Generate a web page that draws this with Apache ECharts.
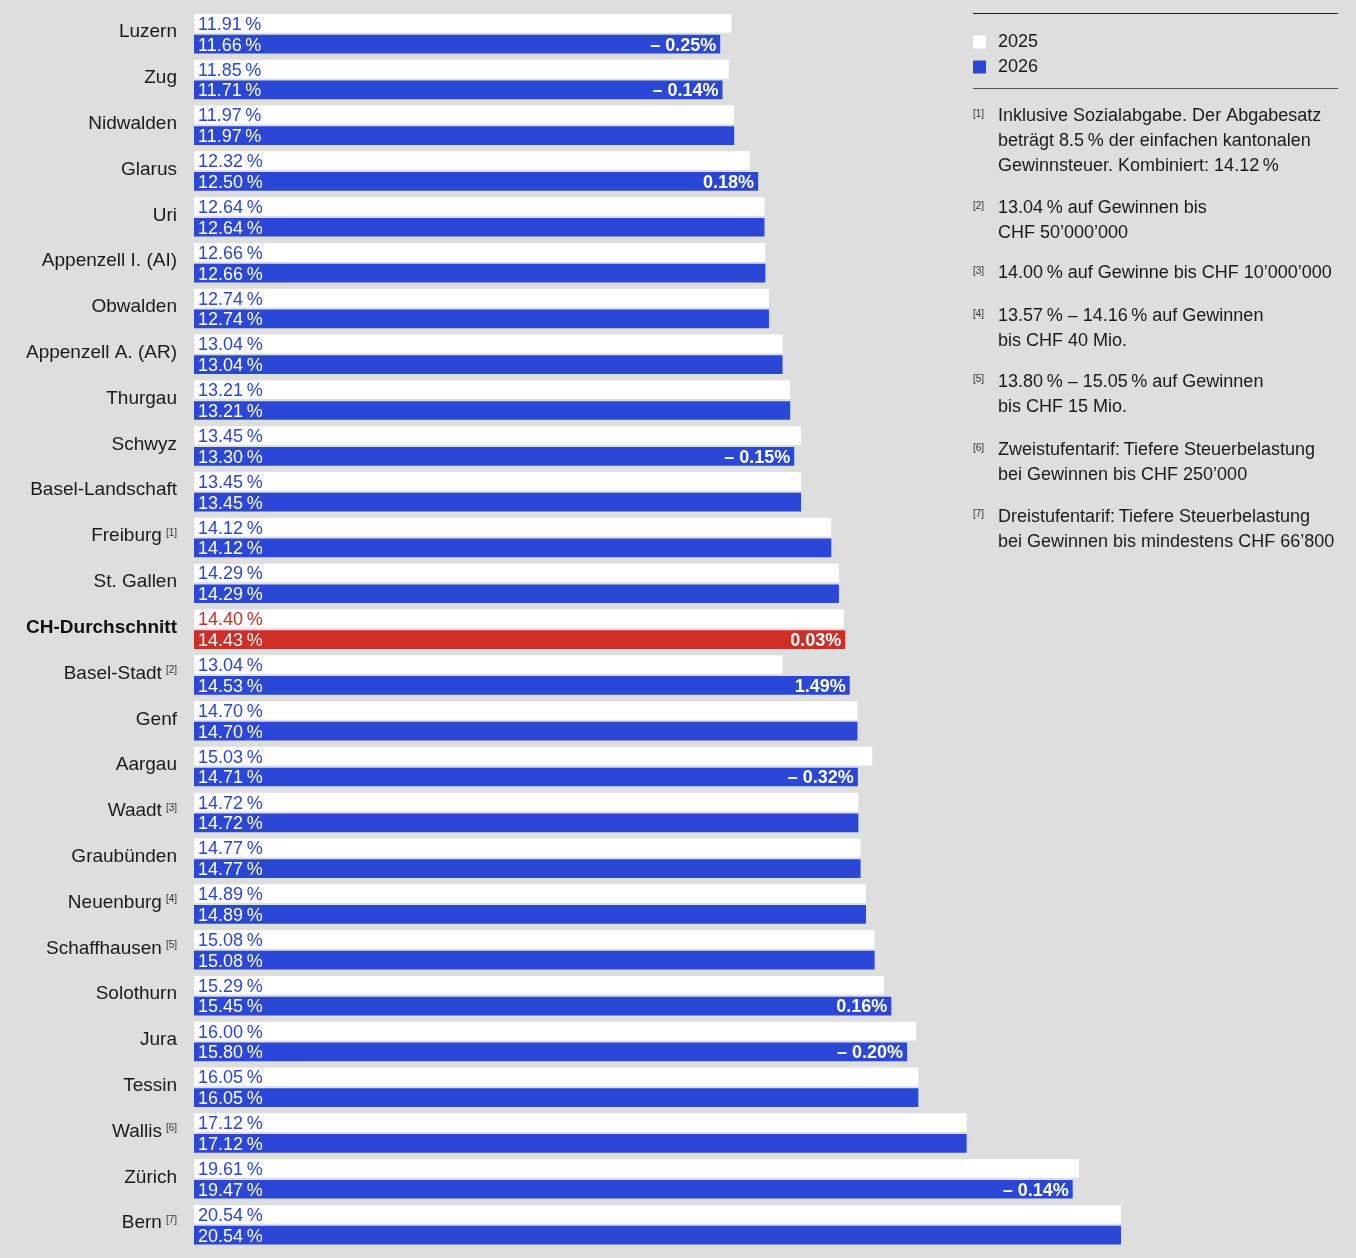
<!DOCTYPE html>
<html>
<head>
<meta charset="utf-8">
<script src="https://cdn.jsdelivr.net/npm/echarts@6/dist/echarts.min.js"></script>
<style>
html,body{margin:0;padding:0;background:#dedede;}
#c{width:1356px;height:1258px;}
</style>
</head>
<body>
<div id="c"></div>
<script>
const categories = ['Luzern','Zug','Nidwalden','Glarus','Uri','Appenzell I. (AI)','Obwalden','Appenzell A. (AR)','Thurgau','Schwyz','Basel-Landschaft','Freiburg','St. Gallen','CH-Durchschnitt','Basel-Stadt','Genf','Aargau','Waadt','Graubünden','Neuenburg','Schaffhausen','Solothurn','Jura','Tessin','Wallis','Zürich','Bern'];
const noteRefs = [null,null,null,null,null,null,null,null,null,null,null,1,null,null,2,null,null,3,null,4,5,null,null,null,6,null,7];
const values2025 = [11.91,11.85,11.97,12.32,12.64,12.66,12.74,13.04,13.21,13.45,13.45,14.12,14.29,14.40,13.04,14.70,15.03,14.72,14.77,14.89,15.08,15.29,16.00,16.05,17.12,19.61,20.54];
const values2026 = [11.66,11.71,11.97,12.50,12.64,12.66,12.74,13.04,13.21,13.30,13.45,14.12,14.29,14.43,14.53,14.70,14.71,14.72,14.77,14.89,15.08,15.45,15.80,16.05,17.12,19.47,20.54];
const changes = [-0.25,-0.14,null,0.18,null,null,null,null,null,-0.15,null,null,null,0.03,1.49,null,-0.32,null,null,null,null,0.16,-0.20,null,null,-0.14,null];
const averageName = 'CH-Durchschnitt';
const legendNames = ['2025','2026'];
const footnotes = [
  ['[1]', 'Inklusive Sozialabgabe. Der Abgabesatz\nbeträgt 8.5\u2009% der einfachen kantonalen\nGewinnsteuer. Kombiniert: 14.12\u2009%'],
  ['[2]', '13.04\u2009% auf Gewinnen bis\nCHF 50’000’000'],
  ['[3]', '14.00\u2009% auf Gewinne bis CHF 10’000’000'],
  ['[4]', '13.57\u2009% – 14.16\u2009% auf Gewinnen\nbis CHF 40 Mio.'],
  ['[5]', '13.80\u2009% – 15.05\u2009% auf Gewinnen\nbis CHF 15 Mio.'],
  ['[6]', 'Zweistufentarif:\u2009Tiefere Steuerbelastung\nbei Gewinnen bis CHF 250’000'],
  ['[7]', 'Dreistufentarif:\u2009Tiefere Steuerbelastung\nbei Gewinnen bis mindestens CHF 66’800']
];

const FONT = '"Liberation Sans", Arial, sans-serif';
const BLUE = '#2a47d6';
const RED = '#cf2e27';
const WHITE = '#ffffff';
const INK = '#1a1a1a';
const avgIdx = categories.indexOf(averageName);

const GRID = {left: 194, top: 10.75, width: 1128.25, bottom: 10.4};
const BAR_W = 18.7;
const BAR_GAP = '11%';

const fmtPct = v => v.toFixed(2) + '\u2009%';
const fmtChange = v => (v < 0 ? '– ' + Math.abs(v).toFixed(2) : v.toFixed(2)) + '%';

const data2025 = values2025.map((v, i) => i === avgIdx ? {value: v, label: {color: RED}} : v);
const data2026 = values2026.map((v, i) => i === avgIdx ? {value: v, itemStyle: {color: RED}} : v);

const footTops = [103.5, 195.8, 260.8, 303.5, 369.2, 437.5, 504.2];
const graphics = [
  {type: 'line', shape: {x1: 973, y1: 13.5, x2: 1338, y2: 13.5}, style: {stroke: '#1a1a1a', lineWidth: 1.2}},
  {type: 'line', shape: {x1: 973, y1: 88.5, x2: 1338, y2: 88.5}, style: {stroke: '#555555', lineWidth: 1.2}}
];
footnotes.forEach((f, i) => {
  graphics.push({type: 'text', x: 973, y: footTops[i] + 5.5, style: {text: f[0], font: '10px ' + FONT, fill: '#333333', verticalAlign: 'top'}});
  graphics.push({type: 'text', x: 998, y: footTops[i], style: {text: f[1], fontFamily: FONT, fontSize: 18, lineHeight: 25, fill: INK, verticalAlign: 'top'}});
});

const chart = echarts.init(document.getElementById('c'));
chart.setOption({
  animation: false,
  backgroundColor: '#dedede',
  grid: GRID,
  legend: {
    data: legendNames,
    orient: 'vertical',
    left: 973, top: 29.5, padding: 0,
    itemWidth: 13, itemHeight: 13, itemGap: 0,
    icon: 'rect',
    selectedMode: false,
    textStyle: {fontFamily: FONT, fontSize: 18, color: INK, lineHeight: 25, padding: [0, 0, 0, 7]}
  },
  xAxis: {type: 'value', min: 0, max: 25, show: false},
  yAxis: [
    {
      type: 'category', inverse: true, data: categories,
      axisLine: {show: false}, axisTick: {show: false}, splitLine: {show: false},
      axisLabel: {
        margin: 17,
        padding: [0, 0, 3, 0],
        formatter: (val, idx) => {
          if (val === averageName) return '{b|' + val + '}';
          const n = noteRefs[idx];
          return n ? '{n|' + val + '}{s|[' + n + ']}' : '{n|' + val + '}';
        },
        rich: {
          n: {fontFamily: FONT, fontSize: 19, color: INK, lineHeight: 22},
          b: {fontFamily: FONT, fontSize: 19, color: '#111', fontWeight: 'bold', lineHeight: 22},
          s: {fontFamily: FONT, fontSize: 10, color: '#333', lineHeight: 10, verticalAlign: 'top', padding: [3, 0, 0, 4]}
        }
      }
    },
    {type: 'category', inverse: true, data: categories, show: false}
  ],
  series: [
    {
      name: '2025', type: 'bar', yAxisIndex: 0, data: data2025,
      barWidth: BAR_W, barGap: BAR_GAP,
      itemStyle: {color: WHITE},
      label: {show: true, position: 'insideLeft', distance: 4, offset: [0, 1.5], formatter: p => fmtPct(p.value),
        fontFamily: FONT, fontSize: 18, color: BLUE}
    },
    {
      name: '2026', type: 'bar', yAxisIndex: 0, data: data2026,
      barWidth: BAR_W, barGap: BAR_GAP,
      itemStyle: {color: BLUE},
      label: {show: true, position: 'insideLeft', distance: 4, offset: [0, 1.5], formatter: p => fmtPct(p.value),
        fontFamily: FONT, fontSize: 18, color: WHITE}
    },
    {
      name: 'spacer', type: 'bar', yAxisIndex: 1, data: values2025,
      barWidth: BAR_W, barGap: BAR_GAP, silent: true,
      itemStyle: {color: 'rgba(0,0,0,0)'}
    },
    {
      name: 'change', type: 'bar', yAxisIndex: 1, data: values2026,
      barWidth: BAR_W, barGap: BAR_GAP, silent: true,
      itemStyle: {color: 'rgba(0,0,0,0)'},
      label: {show: true, position: 'insideRight', distance: 4, offset: [0, 1.5],
        formatter: p => changes[p.dataIndex] == null ? '' : fmtChange(changes[p.dataIndex]),
        fontFamily: FONT, fontSize: 18, fontWeight: 'bold', color: WHITE}
    }
  ],
  graphic: graphics
});
</script>
</body>
</html>
